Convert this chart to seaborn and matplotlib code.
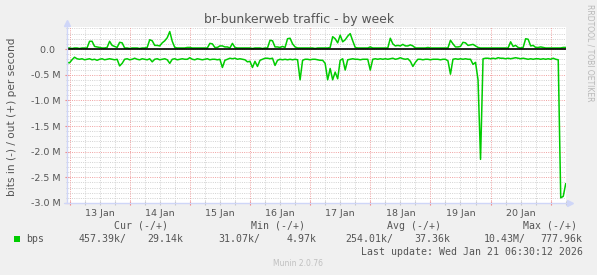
import matplotlib
matplotlib.use('Agg')
import numpy as np
import pandas as pd
import matplotlib.pyplot as plt
import matplotlib.dates as mdates
from matplotlib.ticker import FixedLocator, FuncFormatter, MultipleLocator, NullFormatter
from matplotlib.patches import Rectangle
import seaborn as sns

# ---------------- data (Mbit/s, hourly samples from 2026-01-12 23:00) ----------------
start_time = '2026-01-12 23:00'

out_mbps = [
    0.02, 0.02, 0.01, 0.02, 0.02, 0.01, 0.02, 0.02, 0.02, 0.15, 0.15, 0.05, 0.04, 0.03, 0.02, 0.02, 0.03, 0.15, 0.07, 0.05, 0.03, 0.13, 0.12, 0.02,
    0.02, 0.01, 0.02, 0.02, 0.02, 0.01, 0.02, 0.02, 0.03, 0.18, 0.16, 0.07, 0.07, 0.06, 0.12, 0.16, 0.22, 0.34, 0.15, 0.03, 0.02, 0.02, 0.02, 0.02,
    0.03, 0.03, 0.02, 0.02, 0.02, 0.02, 0.02, 0.02, 0.02, 0.11, 0.10, 0.03, 0.03, 0.06, 0.06, 0.04, 0.04, 0.02, 0.11, 0.03, 0.02, 0.02, 0.02, 0.02,
    0.02, 0.02, 0.01, 0.02, 0.02, 0.02, 0.01, 0.02, 0.02, 0.17, 0.16, 0.04, 0.04, 0.03, 0.05, 0.03, 0.20, 0.21, 0.10, 0.04, 0.02, 0.02, 0.02, 0.02,
    0.02, 0.02, 0.02, 0.01, 0.02, 0.02, 0.02, 0.02, 0.02, 0.03, 0.24, 0.20, 0.12, 0.27, 0.14, 0.18, 0.25, 0.30, 0.16, 0.03, 0.02, 0.02, 0.02, 0.02,
    0.02, 0.04, 0.02, 0.02, 0.02, 0.02, 0.02, 0.02, 0.02, 0.21, 0.10, 0.06, 0.07, 0.06, 0.09, 0.06, 0.06, 0.08, 0.06, 0.02, 0.02, 0.02, 0.02, 0.02,
    0.03, 0.02, 0.02, 0.02, 0.02, 0.02, 0.02, 0.02, 0.02, 0.17, 0.10, 0.04, 0.04, 0.05, 0.13, 0.12, 0.07, 0.08, 0.09, 0.06, 0.03, 0.02, 0.02, 0.02,
    0.02, 0.02, 0.02, 0.02, 0.02, 0.02, 0.02, 0.02, 0.02, 0.14, 0.05, 0.07, 0.03, 0.02, 0.03, 0.20, 0.19, 0.06, 0.07, 0.03, 0.03, 0.04, 0.03, 0.02,
    0.02, 0.02, 0.02, 0.02, 0.02, 0.02, 0.03, 0.03,
]

in_mbps = [
    0.26, 0.27, 0.21, 0.16, 0.19, 0.20, 0.19, 0.21, 0.20, 0.19, 0.21, 0.20, 0.22, 0.20, 0.19, 0.21, 0.20, 0.19, 0.20, 0.21, 0.20, 0.33, 0.28, 0.20,
    0.19, 0.21, 0.20, 0.18, 0.20, 0.21, 0.19, 0.20, 0.21, 0.19, 0.25, 0.20, 0.19, 0.21, 0.20, 0.19, 0.21, 0.28, 0.20, 0.19, 0.21, 0.20, 0.19, 0.20,
    0.20, 0.17, 0.20, 0.21, 0.19, 0.20, 0.21, 0.20, 0.19, 0.21, 0.20, 0.20, 0.21, 0.20, 0.36, 0.22, 0.20, 0.18, 0.19, 0.18, 0.20, 0.19, 0.20, 0.21,
    0.25, 0.24, 0.36, 0.24, 0.34, 0.22, 0.20, 0.18, 0.18, 0.19, 0.18, 0.32, 0.22, 0.20, 0.21, 0.20, 0.21, 0.20, 0.21, 0.20, 0.21, 0.60, 0.22, 0.20,
    0.20, 0.21, 0.20, 0.20, 0.21, 0.22, 0.22, 0.28, 0.60, 0.38, 0.60, 0.45, 0.58, 0.22, 0.19, 0.41, 0.21, 0.20, 0.19, 0.20, 0.20, 0.21, 0.20, 0.20,
    0.20, 0.41, 0.20, 0.19, 0.20, 0.19, 0.20, 0.19, 0.20, 0.19, 0.18, 0.20, 0.19, 0.17, 0.19, 0.20, 0.19, 0.24, 0.34, 0.26, 0.20, 0.20, 0.21, 0.20,
    0.20, 0.21, 0.20, 0.20, 0.20, 0.21, 0.20, 0.20, 0.23, 0.49, 0.20, 0.19, 0.20, 0.19, 0.20, 0.19, 0.20, 0.20, 0.30, 0.26, 0.60, 2.15, 0.19, 0.18,
    0.18, 0.19, 0.18, 0.19, 0.17, 0.18, 0.18, 0.19, 0.18, 0.19, 0.18, 0.17, 0.18, 0.19, 0.18, 0.19, 0.20, 0.19, 0.20, 0.19, 0.19, 0.20, 0.19, 0.20,
    0.19, 0.20, 0.18, 0.20, 0.21, 2.90, 2.87, 2.62,
]

day_labels = ['13 Jan', '14 Jan', '15 Jan', '16 Jan', '17 Jan', '18 Jan', '19 Jan', '20 Jan']
ytick_vals = [0.0, -0.5, -1.0, -1.5, -2.0, -2.5, -3.0]
ytick_labels = ['0.0  ', '-0.5 M', '-1.0 M', '-1.5 M', '-2.0 M', '-2.5 M', '-3.0 M']
legend_headers = ['Cur (-/+)', 'Min (-/+)', 'Avg (-/+)', 'Max (-/+)']
legend_values = ['457.39k/', '29.14k', '31.07k/', '4.97k', '254.01k/', '37.36k', '10.43M/', '777.96k']
series_name = 'bps'
title = 'br-bunkerweb traffic - by week'
ylabel = 'bits in (-) / out (+) per second'
last_update = 'Last update: Wed Jan 21 06:30:12 2026'
footer = 'Munin 2.0.76'
watermark = 'RRDTOOL / TOBI OETIKER'

times = pd.date_range(start_time, periods=len(out_mbps), freq='h')
df = pd.DataFrame({'time': times, 'out': out_mbps, 'in': [-v for v in in_mbps]})

# ---------------- figure ----------------
sns.set_theme(style='white')
plt.rcParams['font.family'] = ['DejaVu Sans']

W, H = 597, 275
fig = plt.figure(figsize=(W / 100, H / 100), dpi=100, facecolor='#F0F0F0')
L, R, T, B = 67, 566, 27, 203
ax = fig.add_axes([L / W, 1 - B / H, (R - L) / W, (B - T) / H])
ax.set_facecolor('white')
for s in ax.spines.values():
    s.set_visible(False)

x0 = pd.Timestamp('2026-01-12 23:00')
x1 = pd.Timestamp('2026-01-21 06:06')
ax.set_xlim(x0, x1)
ax.set_ylim(-3.0, 0.4286)

TXT = '#555555'
MINOR_C = '#d2d2d2'
MAJOR_C = '#f0a0a0'
AXIS_C = '#CFD6F8'
DOT = (0, (1, 1.3))

# grid
for k in range(-30, 5):
    v = k / 10
    if k % 5 == 0:
        if k == -30:
            continue
        ax.axhline(v, color=MAJOR_C, lw=0.7, ls=DOT, zorder=0.6)
    else:
        ax.axhline(v, color=MINOR_C, lw=0.7, ls=DOT, zorder=0.5)
grid_times = pd.date_range('2026-01-13 00:00', '2026-01-21 06:00', freq='6h')
for t in grid_times:
    if t.hour == 0:
        ax.axvline(t, color=MAJOR_C, lw=0.7, ls=DOT, zorder=0.6)
    else:
        ax.axvline(t, color=MINOR_C, lw=0.7, ls=DOT, zorder=0.5)

# data lines
sns.lineplot(data=df, x='time', y='out', ax=ax, color='#00CC00', lw=1.1, zorder=2)
sns.lineplot(data=df, x='time', y='in', ax=ax, color='#00CC00', lw=1.1, zorder=2)
ax.axhline(0, color='black', lw=1.2, zorder=3)
ax.set_xlabel('')
ax.set_ylabel('')

# ticks
ax.xaxis.set_major_locator(mdates.DayLocator())
ax.xaxis.set_major_formatter(NullFormatter())
ax.xaxis.set_minor_locator(mdates.HourLocator(byhour=[0, 6, 12, 18]))
lab_map = {pd.Timestamp(f'2026-01-{13 + i:02d} 12:00'): lab for i, lab in enumerate(day_labels)}

def xfmt(x, pos):
    t = pd.Timestamp(mdates.num2date(x).replace(tzinfo=None)).round('min')
    return lab_map.get(t, '')

ax.xaxis.set_minor_formatter(FuncFormatter(xfmt))
ax.tick_params(axis='x', which='major', direction='inout', length=3, width=0.8,
               color='#f08080', bottom=True)
ax.tick_params(axis='x', which='minor', direction='inout', length=3, width=0.8,
               color='#c8c8c8', bottom=True, labelsize=6.8, labelcolor=TXT, pad=2.6)

ax.yaxis.set_major_locator(FixedLocator(ytick_vals))
ax.set_yticklabels(ytick_labels)
ax.yaxis.set_minor_locator(MultipleLocator(0.1))
ax.tick_params(axis='y', which='major', direction='inout', length=3, width=0.8,
               color='#f08080', left=True, labelsize=6.8, labelcolor=TXT, pad=3.0)
ax.tick_params(axis='y', which='minor', direction='inout', length=2, width=0.6,
               color='#c8c8c8', left=True)

# axis lines with arrows
ax.plot([0, 0], [0, 1 + 3 / (B - T)], transform=ax.transAxes, color=AXIS_C, lw=1.0,
        clip_on=False, zorder=4)
ax.plot([-3 / (R - L), 1 + 2 / (R - L)], [0, 0], transform=ax.transAxes, color=AXIS_C,
        lw=1.0, clip_on=False, zorder=4)
ax.plot([0], [1 + 4 / (B - T)], marker='^', ms=4.5, color=AXIS_C, mec=AXIS_C,
        transform=ax.transAxes, clip_on=False, zorder=4)
ax.plot([1 + 4 / (R - L)], [0], marker='>', ms=4.5, color=AXIS_C, mec=AXIS_C,
        transform=ax.transAxes, clip_on=False, zorder=4)

def fy(y):
    return 1 - y / H

def fx(x):
    return x / W

# title, labels
fig.text(fx(299), fy(19), title, ha='center', va='center', fontsize=8.9, color=TXT)
fig.text(fx(12), fy(117), ylabel, ha='center', va='center', rotation=90, fontsize=7.6, color=TXT)
fig.text(fx(590), fy(53), watermark, ha='center', va='center', rotation=270, fontsize=5.5,
         color='#b8b8b8')

# legend
MONO = 'DejaVu Sans Mono'
LS = 7.1
for lab, xl in zip(legend_headers, [114.5, 250.6, 387.3, 522.8]):
    fig.text(fx(xl), fy(226), lab, ha='left', va='center', family=MONO, fontsize=LS, color=TXT)
fig.patches.append(Rectangle((fx(14), fy(242)), 6 / W, 6 / H, transform=fig.transFigure,
                             facecolor='#00CC00', edgecolor='none'))
fig.text(fx(26), fy(239), series_name, ha='left', va='center', family=MONO, fontsize=LS, color=TXT)
for val, xr in zip(legend_values, [127, 183.5, 260, 317, 393.5, 450.5, 525.5, 582.6]):
    fig.text(fx(xr), fy(239), val, ha='right', va='center', family=MONO, fontsize=LS, color=TXT)
fig.text(fx(582.6), fy(252), last_update, ha='right', va='center', family=MONO, fontsize=LS,
         color=TXT)
fig.text(fx(298), fy(264), footer, ha='center', va='center', fontsize=5.5, color='#c0c0c0')

fig.savefig('out.png', dpi=100, facecolor=fig.get_facecolor())
